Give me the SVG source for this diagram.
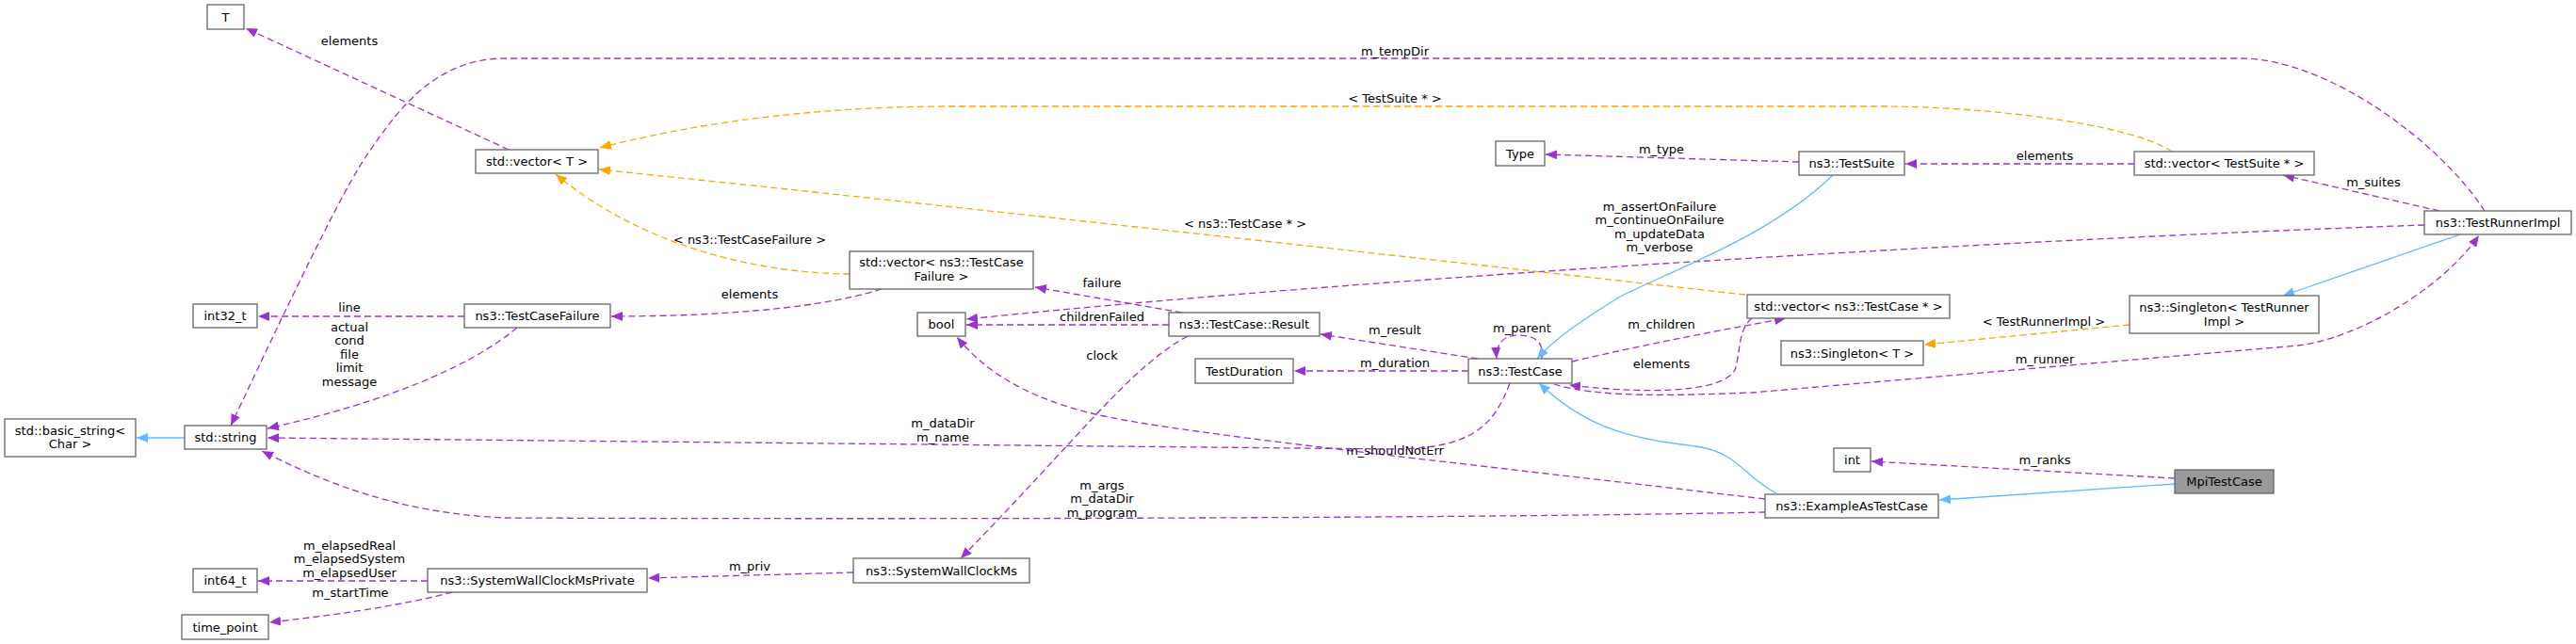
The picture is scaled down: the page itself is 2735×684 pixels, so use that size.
<svg xmlns="http://www.w3.org/2000/svg" width="2735" height="684" viewBox="0 0 2735 684">
<style>
text{font-family:"DejaVu Sans","Liberation Sans",sans-serif;font-size:13px;fill:#000;text-anchor:middle}
.box{fill:#fff;stroke:#666;stroke-width:1.3}
.cur{fill:#999;stroke:#666;stroke-width:1.3}
.p{fill:none;stroke:#9a32cd;stroke-width:1.3;stroke-dasharray:7,4;marker-end:url(#ap)}
.o{fill:none;stroke:#ffa500;stroke-width:1.3;stroke-dasharray:7,4;marker-end:url(#ao)}
.b{fill:none;stroke:#63b8ff;stroke-width:1.3;marker-end:url(#ab)}
</style>
<defs>
<marker id="ap" viewBox="0 0 12 10" refX="12" refY="5" markerWidth="12" markerHeight="10" markerUnits="userSpaceOnUse" orient="auto"><path d="M0,0 L12,5 L0,10 z" fill="#9a32cd"/></marker>
<marker id="ao" viewBox="0 0 12 10" refX="12" refY="5" markerWidth="12" markerHeight="10" markerUnits="userSpaceOnUse" orient="auto"><path d="M0,0 L12,5 L0,10 z" fill="#ffa500"/></marker>
<marker id="ab" viewBox="0 0 12 10" refX="12" refY="5" markerWidth="12" markerHeight="10" markerUnits="userSpaceOnUse" orient="auto"><path d="M0,0 L12,5 L0,10 z" fill="#63b8ff"/></marker>
</defs>
<rect width="2735" height="684" fill="#fff"/>
<g id="connectors">
<path class="p" d="M540,159 L261,30"/>
<text x="371" y="47.5">elements</text>
<path class="p" d="M493,336 L274,336"/>
<text x="371" y="330.5">line</text>
<path class="p" d="M549,348 C505,385 420,425 284,455"/>
<text x="371" y="351.5">actual</text>
<text x="371" y="366">cond</text>
<text x="371" y="380.5">file</text>
<text x="371" y="395">limit</text>
<text x="371" y="409.5">message</text>
<path class="b" d="M196,465 L145,465"/>
<path class="p" d="M2638,224 C2590,150 2470,62 2379,62 L536,62 C460,62 420,120 388,167 S270,400 245,452"/>
<text x="1481" y="58.5">m_tempDir</text>
<path class="p" d="M454,617 L274,617"/>
<text x="371" y="583.5">m_elapsedReal</text>
<text x="371" y="598">m_elapsedSystem</text>
<text x="371" y="612.5">m_elapsedUser</text>
<path class="p" d="M480,629 C420,645 340,655 286,661"/>
<text x="372" y="633.5">m_startTime</text>
<path class="p" d="M906,608 L688,614"/>
<text x="796" y="605.5">m_priv</text>
<path class="o" d="M902,291 C800,290 680,260 590,185"/>
<text x="796" y="258.5">&lt; ns3::TestCaseFailure &gt;</text>
<path class="p" d="M936,307 C880,325 780,336 649,336"/>
<text x="796" y="316.5">elements</text>
<path class="p" d="M1255,332 L1099,305"/>
<text x="1170" y="304.5">failure</text>
<path class="p" d="M1241,345 L1026,345"/>
<text x="1170" y="340.5">childrenFailed</text>
<path class="p" d="M2574,239 C2200,252 1500,290 1026,339"/>
<text x="1762" y="223.5">m_assertOnFailure</text>
<text x="1762" y="238">m_continueOnFailure</text>
<text x="1762" y="252.5">m_updateData</text>
<text x="1762" y="267">m_verbose</text>
<path class="p" d="M1261,357 C1200,390 1150,460 1020,593"/>
<text x="1170" y="381.5">clock</text>
<path class="p" d="M1874,530 C1500,486 1250,460 1163,440 C1100,425 1050,400 1016,358"/>
<text x="1481" y="482.5">m_shouldNotErr</text>
<path class="p" d="M1603,407 C1585,455 1560,476 1480,477 L284,465"/>
<text x="1001" y="453.5">m_dataDir</text>
<text x="1001" y="469">m_name</text>
<path class="p" d="M1874,544 C1600,550 1000,552 536,550 C420,545 340,510 278,479"/>
<text x="1170" y="519.5">m_args</text>
<text x="1170" y="534">m_dataDir</text>
<text x="1170" y="548.5">m_program</text>
<path class="p" d="M1569,381 L1402,355"/>
<text x="1481" y="354.5">m_result</text>
<path class="p" d="M1559,394 L1374,394"/>
<text x="1481" y="389.5">m_duration</text>
<path class="p" d="M1637,381 C1640,362 1628,356 1612,356 C1596,356 1588,366 1589,381"/>
<text x="1616" y="352.5">m_parent</text>
<path class="p" d="M1669,384 C1750,365 1830,350 1896,338"/>
<text x="1764" y="348.5">m_children</text>
<path class="p" d="M1860,338 C1845,350 1848,375 1842,393 C1830,415 1760,420 1666,409"/>
<text x="1764" y="390.5">elements</text>
<path class="p" d="M1650,408 C1700,423 1780,420 1860,417 L2440,367 C2500,360 2590,310 2632,250"/>
<text x="2171" y="385.5">m_runner</text>
<path class="b" d="M1946,186 C1880,250 1780,285 1720,315 C1680,340 1650,360 1632,381"/>
<path class="b" d="M1886,524 C1850,505 1845,480 1800,474 C1740,466 1690,460 1634,407"/>
<path class="b" d="M2309,514 L2059,531"/>
<path class="p" d="M2309,508 L1987,490"/>
<text x="2171" y="492.5">m_ranks</text>
<path class="o" d="M2261,345 L2043,366"/>
<text x="2170" y="345.5">&lt; TestRunnerImpl &gt;</text>
<path class="b" d="M2612,249 L2424,314"/>
<path class="p" d="M2590,224 L2424,186"/>
<text x="2520" y="197.5">m_suites</text>
<path class="p" d="M2266,174 L2023,174"/>
<text x="2171" y="169.5">elements</text>
<path class="p" d="M1910,172 L1641,164"/>
<text x="1764" y="162.5">m_type</text>
<path class="o" d="M2306,161 C2260,130 2100,113 2000,113 L1007,113 C850,113 720,135 637,157"/>
<text x="1481" y="108.5">&lt; TestSuite * &gt;</text>
<path class="o" d="M1853,313 C1600,285 1100,228 636,180"/>
<text x="1322" y="241.5">&lt; ns3::TestCase * &gt;</text>
</g>
<g id="node-T"><rect class="box" x="220" y="5" width="39" height="26"/><text x="239.5" y="22.5">T</text></g>
<g id="node-vectorT"><rect class="box" x="505" y="159" width="130" height="25"/><text x="570" y="176">std::vector&lt; T &gt;</text></g>
<g id="node-int32"><rect class="box" x="205" y="323" width="68" height="25"/><text x="239" y="340">int32_t</text></g>
<g id="node-TestCaseFailure"><rect class="box" x="493" y="323" width="155" height="25"/><text x="570.5" y="340">ns3::TestCaseFailure</text></g>
<g id="node-basic_string"><rect class="box" x="5" y="445" width="139" height="40"/><text x="74.5" y="461.5">std::basic_string&lt;</text><text x="74.5" y="476">Char &gt;</text></g>
<g id="node-string"><rect class="box" x="196" y="452" width="87" height="25"/><text x="239.5" y="469">std::string</text></g>
<g id="node-int64"><rect class="box" x="205" y="604" width="68" height="25"/><text x="239" y="621">int64_t</text></g>
<g id="node-time_point"><rect class="box" x="193" y="653" width="92" height="26"/><text x="239" y="670.5">time_point</text></g>
<g id="node-SWCMPrivate"><rect class="box" x="454" y="604" width="233" height="25"/><text x="570.5" y="621">ns3::SystemWallClockMsPrivate</text></g>
<g id="node-vectorTCF"><rect class="box" x="902" y="267" width="195" height="40"/><text x="999.5" y="282.5">std::vector&lt; ns3::TestCase</text><text x="999.5" y="297.5">Failure &gt;</text></g>
<g id="node-bool"><rect class="box" x="974" y="332" width="51" height="25"/><text x="999.5" y="349">bool</text></g>
<g id="node-Result"><rect class="box" x="1241" y="332" width="160" height="25"/><text x="1321" y="349">ns3::TestCase::Result</text></g>
<g id="node-TestDuration"><rect class="box" x="1269" y="381" width="104" height="26"/><text x="1321" y="398.5">TestDuration</text></g>
<g id="node-SWCM"><rect class="box" x="906" y="593" width="187" height="26"/><text x="999.5" y="610.5">ns3::SystemWallClockMs</text></g>
<g id="node-TestCase"><rect class="box" x="1559" y="381" width="110" height="26"/><text x="1614" y="398.5">ns3::TestCase</text></g>
<g id="node-Type"><rect class="box" x="1588" y="150" width="52" height="26"/><text x="1614" y="167.5">Type</text></g>
<g id="node-TestSuite"><rect class="box" x="1910" y="161" width="112" height="25"/><text x="1966" y="178">ns3::TestSuite</text></g>
<g id="node-vectorTestSuite"><rect class="box" x="2266" y="161" width="191" height="25"/><text x="2361.5" y="178">std::vector&lt; TestSuite * &gt;</text></g>
<g id="node-TestRunnerImpl"><rect class="box" x="2574" y="224" width="156" height="25"/><text x="2652" y="241">ns3::TestRunnerImpl</text></g>
<g id="node-vectorTestCase"><rect class="box" x="1855" y="313" width="215" height="25"/><text x="1962.5" y="330">std::vector&lt; ns3::TestCase * &gt;</text></g>
<g id="node-SingletonT"><rect class="box" x="1891" y="362" width="151" height="26"/><text x="1966.5" y="379.5">ns3::Singleton&lt; T &gt;</text></g>
<g id="node-SingletonTRI"><rect class="box" x="2261" y="314" width="201" height="40"/><text x="2361.5" y="330.5">ns3::Singleton&lt; TestRunner</text><text x="2361.5" y="345.5">Impl &gt;</text></g>
<g id="node-ExampleAsTestCase"><rect class="box" x="1874" y="525" width="184" height="25"/><text x="1966" y="542">ns3::ExampleAsTestCase</text></g>
<g id="node-int"><rect class="box" x="1947" y="476" width="39" height="25"/><text x="1966.5" y="493">int</text></g>
<g id="node-MpiTestCase"><rect class="cur" x="2309" y="499" width="105" height="25"/><text x="2361.5" y="516">MpiTestCase</text></g>
</svg>
